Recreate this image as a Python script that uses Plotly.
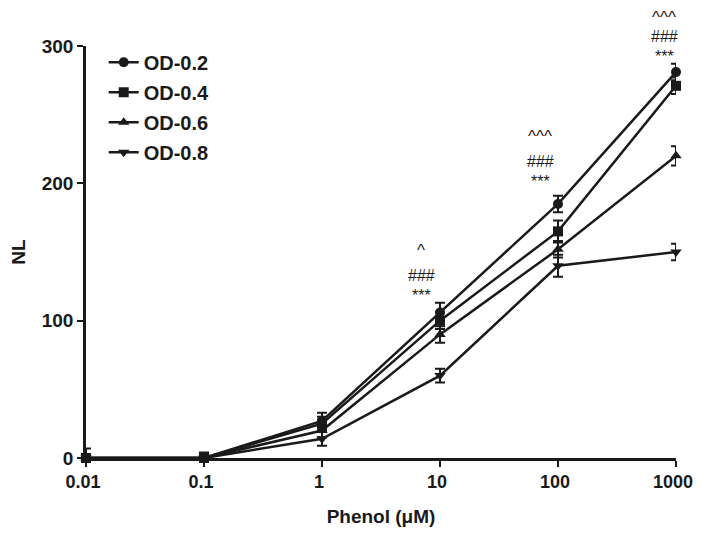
import math
import plotly.graph_objects as go

conc = [0.01, 0.1, 1, 10, 100, 1000]
tick_labels = ["0.01", "0.1", "1", "10", "100", "1000"]
series_names = ["OD-0.2", "OD-0.4", "OD-0.6", "OD-0.8"]
od02 = [0, 0, 27, 106, 185, 281]
od04 = [0, 0, 25, 100, 165, 271]
od06 = [0, 0, 20, 90, 152, 220]
od08 = [0, 0, 14, 60, 140, 150]
err02 = [7, 4, 6, 7, 6, 6]
err04 = [3, 3, 5, 6, 8, 6]
err06 = [3, 3, 5, 6, 6, 7]
err08 = [3, 3, 5, 5, 8, 6]
symbols = ["circle", "square", "triangle-up", "triangle-down"]

annot_x = [10, 100, 1000]
annot_caret = ["^", "^^^", "^^^"]
annot_hash = ["###", "###", "###"]
annot_star = ["***", "***", "***"]
annot_star_y = [118, 201, 292]
annot_xshift = [-19, -18, -12]
caret_shift = [45, 45, 39]

INK = "#1a1a1a"
FONT = "Liberation Sans, Arial, sans-serif"

fig = go.Figure()
for name, vals, errs, sym in zip(series_names, [od02, od04, od06, od08],
                                 [err02, err04, err06, err08], symbols):
    fig.add_trace(go.Scatter(
        x=conc, y=vals, name=name, legendgroup=name, mode="lines+markers",
        line=dict(color=INK, width=2.5),
        marker=dict(symbol=sym, size=10, color=INK),
        error_y=dict(type="data", array=errs, color=INK, thickness=2, width=5),
        cliponaxis=False,
    ))

for xv, c, h, s, sy, xs, cs in zip(annot_x, annot_caret, annot_hash, annot_star,
                                   annot_star_y, annot_xshift, caret_shift):
    for t, ys, fs in [(s, 0, 16), (h, 20, 16), (c, cs, 17)]:
        fig.add_annotation(x=math.log10(xv), y=sy, xref="x", yref="y", text=t,
                           showarrow=False, xshift=xs, yshift=ys, yanchor="middle",
                           borderpad=0,
                           font=dict(family=FONT, size=fs, color=INK))

fig.update_layout(
    width=694, height=519,
    margin=dict(l=78, r=26, t=38, b=69),
    paper_bgcolor="white", plot_bgcolor="white",
    font=dict(family=FONT, color=INK),
    showlegend=True,
    legend=dict(x=0.03, y=1.008, xanchor="left", yanchor="top",
                font=dict(size=20, family=FONT, weight="bold", color=INK),
                bgcolor="rgba(0,0,0,0)", tracegroupgap=1),
    xaxis=dict(type="log", range=[-2, 3], tickvals=conc, ticktext=tick_labels,
               showline=True, linecolor=INK, linewidth=2.5,
               ticks="outside", ticklen=6, tickwidth=2, tickcolor=INK,
               showgrid=False, zeroline=False, automargin=False,
               ticklabeloverflow="allow", ticklabelshift=-3,
               tickfont=dict(size=18, weight="bold"),
               title=dict(text="Phenol (μM)", font=dict(size=19, weight="bold"), standoff=20)),
    yaxis=dict(range=[0, 300], tickvals=[0, 100, 200, 300],
               showline=True, linecolor=INK, linewidth=2.5,
               ticks="outside", ticklen=6, tickwidth=2, tickcolor=INK,
               showgrid=False, zeroline=False, automargin=False,
               tickfont=dict(size=19, weight="bold"),
               title=dict(text="NL", font=dict(size=19, weight="bold"), standoff=14)),
)

fig.write_html("out.html")
